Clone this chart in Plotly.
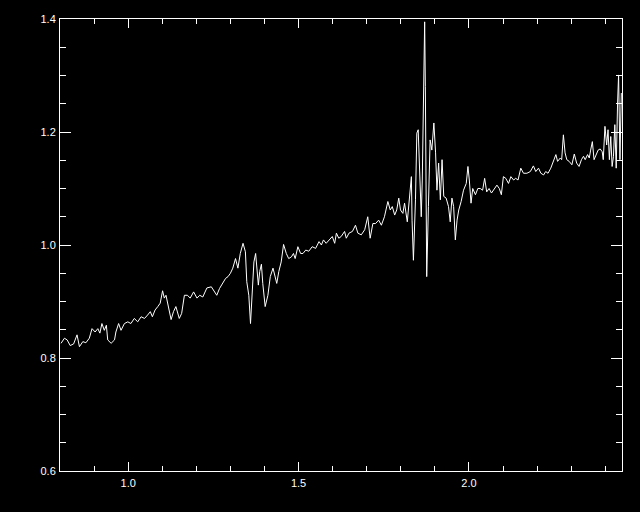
import plotly.graph_objects as go

wavelength = [
    0.803, 0.813, 0.821, 0.830, 0.840, 0.850, 0.857, 0.867, 0.876, 0.886,
    0.894, 0.903, 0.911, 0.917, 0.923, 0.930, 0.936, 0.940, 0.950, 0.960,
    0.964, 0.972, 0.979, 0.989, 0.999, 1.008, 1.018, 1.028, 1.038, 1.048,
    1.057, 1.065, 1.071, 1.079, 1.087, 1.094, 1.101, 1.106, 1.111, 1.118,
    1.126, 1.133, 1.140, 1.150, 1.157, 1.165, 1.174, 1.182, 1.192, 1.202,
    1.210, 1.219, 1.231, 1.244, 1.254, 1.260, 1.268, 1.278, 1.286, 1.293,
    1.300, 1.307, 1.315, 1.322, 1.329, 1.337, 1.344, 1.348, 1.354, 1.359,
    1.364, 1.369, 1.374, 1.378, 1.382, 1.386, 1.391, 1.395, 1.402, 1.410,
    1.417, 1.425, 1.433, 1.436, 1.442, 1.449, 1.456, 1.464, 1.471, 1.479,
    1.485, 1.490, 1.498, 1.506, 1.513, 1.521, 1.530, 1.540, 1.550, 1.560,
    1.567, 1.573, 1.581, 1.591, 1.599, 1.606, 1.611, 1.618, 1.625, 1.635,
    1.640, 1.648, 1.658, 1.667, 1.674, 1.684, 1.694, 1.703, 1.710, 1.718,
    1.726, 1.735, 1.743, 1.752, 1.762, 1.769, 1.775, 1.782, 1.788, 1.794,
    1.799, 1.806, 1.811, 1.819, 1.826, 1.831, 1.833, 1.837, 1.843, 1.847,
    1.851, 1.855, 1.860, 1.863, 1.867, 1.870, 1.872, 1.876, 1.881, 1.886,
    1.891, 1.897, 1.902, 1.906, 1.911, 1.916, 1.921, 1.926, 1.933, 1.940,
    1.945, 1.950, 1.955, 1.960, 1.965, 1.970, 1.977, 1.984, 1.992, 1.997,
    2.001, 2.006, 2.011, 2.019, 2.026, 2.033, 2.040, 2.046, 2.052, 2.059,
    2.066, 2.074, 2.082, 2.089, 2.095, 2.101, 2.108, 2.116, 2.123, 2.131,
    2.137, 2.144, 2.152, 2.160, 2.170, 2.180, 2.189, 2.196, 2.204, 2.211,
    2.219, 2.225, 2.232, 2.240, 2.248, 2.255, 2.260, 2.268, 2.272, 2.277,
    2.282, 2.287, 2.294, 2.302, 2.309, 2.316, 2.323, 2.330, 2.336, 2.341,
    2.348, 2.353, 2.357, 2.362, 2.367, 2.374, 2.379, 2.385, 2.391, 2.394,
    2.399, 2.404, 2.408, 2.412, 2.416, 2.420, 2.424, 2.428, 2.432, 2.436,
    2.439, 2.443, 2.447,
]

flux = [
    0.826, 0.835, 0.832, 0.822, 0.825, 0.841, 0.820, 0.829, 0.827, 0.835,
    0.852, 0.846, 0.852, 0.844, 0.861, 0.849, 0.858, 0.832, 0.826, 0.832,
    0.846, 0.861, 0.849, 0.861, 0.864, 0.861, 0.870, 0.864, 0.873, 0.870,
    0.876, 0.882, 0.873, 0.885, 0.891, 0.897, 0.919, 0.906, 0.911, 0.888,
    0.868, 0.882, 0.891, 0.870, 0.879, 0.911, 0.911, 0.906, 0.917, 0.906,
    0.911, 0.908, 0.924, 0.926, 0.917, 0.911, 0.923, 0.932, 0.941, 0.944,
    0.950, 0.959, 0.976, 0.959, 0.985, 1.003, 0.988, 0.935, 0.911, 0.861,
    0.917, 0.970, 0.985, 0.959, 0.929, 0.953, 0.966, 0.932, 0.891, 0.911,
    0.944, 0.959, 0.941, 0.932, 0.953, 0.970, 1.001, 0.985, 0.976, 0.979,
    0.985, 0.976, 0.997, 0.985, 0.985, 0.991, 0.989, 0.997, 0.994, 1.006,
    1.000, 1.009, 1.003, 1.009, 1.015, 1.003, 1.021, 1.012, 1.015, 1.024,
    1.012, 1.021, 1.024, 1.035, 1.021, 1.018, 1.027, 1.050, 1.012, 1.038,
    1.038, 1.044, 1.035, 1.050, 1.077, 1.062, 1.068, 1.053, 1.062, 1.083,
    1.062, 1.056, 1.074, 1.041, 1.092, 1.121, 1.044, 0.973, 1.080, 1.198,
    1.204, 1.145, 1.050, 1.115, 1.263, 1.395, 1.281, 0.944, 1.068, 1.186,
    1.168, 1.216, 1.163, 1.097, 1.145, 1.080, 1.151, 1.086, 1.083, 1.068,
    1.041, 1.083, 1.068, 1.009, 1.044, 1.062, 1.077, 1.097, 1.109, 1.139,
    1.115, 1.074, 1.100, 1.089, 1.100, 1.100, 1.097, 1.118, 1.094, 1.100,
    1.092, 1.100, 1.106, 1.100, 1.089, 1.121, 1.118, 1.109, 1.121, 1.115,
    1.118, 1.115, 1.136, 1.127, 1.127, 1.130, 1.140, 1.130, 1.136, 1.127,
    1.124, 1.130, 1.127, 1.136, 1.148, 1.160, 1.148, 1.154, 1.151, 1.195,
    1.163, 1.151, 1.148, 1.142, 1.161, 1.145, 1.139, 1.151, 1.157, 1.151,
    1.160, 1.154, 1.168, 1.183, 1.151, 1.160, 1.168, 1.170, 1.165, 1.151,
    1.210, 1.177, 1.204, 1.151, 1.192, 1.139, 1.157, 1.213, 1.136, 1.251,
    1.301, 1.151, 1.269,
]

x_range = [0.8, 2.449]
y_range = [0.6, 1.4]

fig = go.Figure()
fig.add_trace(go.Scatter(
    x=wavelength, y=flux, mode="lines",
    line=dict(color="white", width=1),
    hoverinfo="skip", showlegend=False,
))

axis_common = dict(
    showgrid=False, zeroline=False,
    showline=True, linecolor="#ffffff", linewidth=1,
    mirror="allticks", ticks="inside", tickcolor="#ffffff", tickwidth=1,
    tickfont=dict(family="Liberation Sans, Arial, sans-serif", size=11, color="#ffffff"),
    tickformat=".1f", layer="above traces",
)

fig.update_xaxes(
    range=x_range, tickmode="linear", tick0=0.0, dtick=0.5, ticklen=9,
    minor=dict(ticks="inside", dtick=0.1, tick0=0.0, ticklen=5,
               tickcolor="#ffffff", tickwidth=1, showgrid=False),
    ticklabelstandoff=2,
    **axis_common,
)
fig.update_yaxes(
    range=y_range, tickmode="linear", tick0=0.0, dtick=0.2, ticklen=11,
    minor=dict(ticks="inside", dtick=0.05, tick0=0.0, ticklen=6,
               tickcolor="#ffffff", tickwidth=1, showgrid=False),
    ticklabelstandoff=1,
    **axis_common,
)

fig.update_layout(
    width=640, height=512,
    paper_bgcolor="black", plot_bgcolor="black",
    margin=dict(l=60, r=18, t=19, b=41, pad=0),
    showlegend=False,
)

fig.write_html(
    "out.html",
    config={"displayModeBar": False},
    post_script="document.body.style.margin='0';document.body.style.background='black';document.body.style.overflow='hidden';",
)
